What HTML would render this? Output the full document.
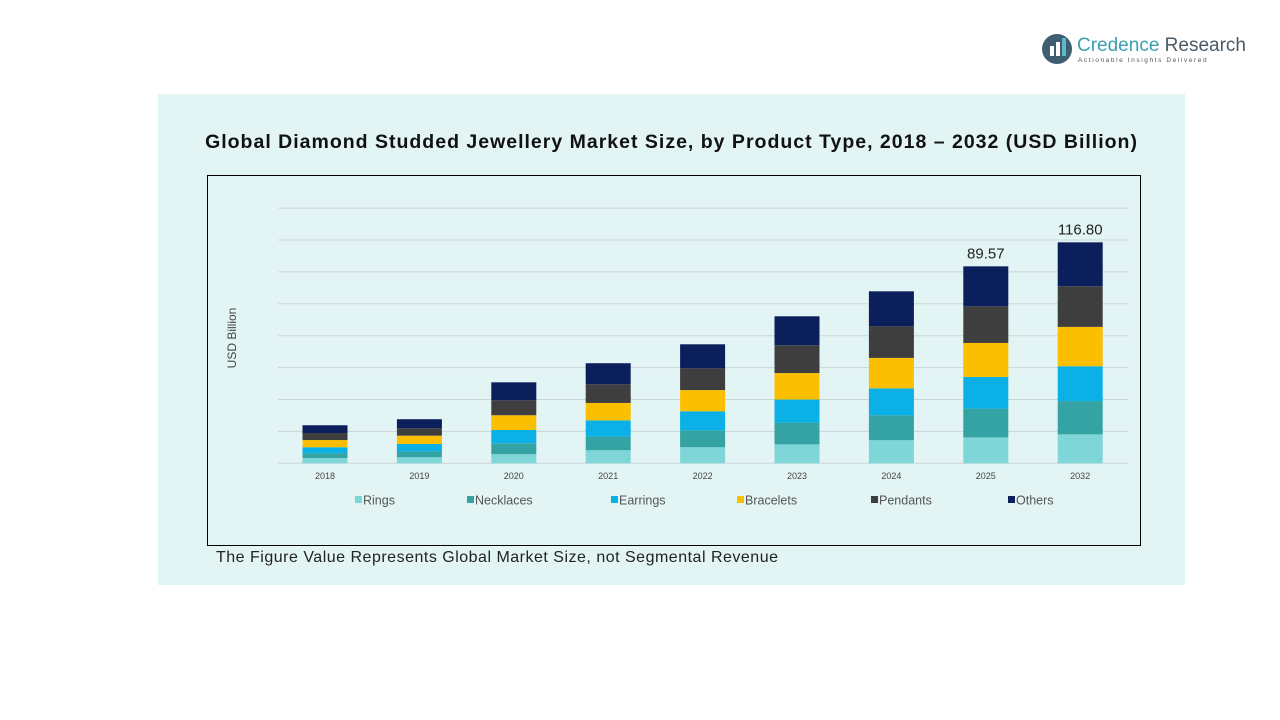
<!DOCTYPE html>
<html><head><meta charset="utf-8"><style>
body{margin:0;width:1280px;height:720px;background:#fff;position:relative;overflow:hidden;font-family:"Liberation Sans",sans-serif}
#panel{position:absolute;left:158px;top:94px;width:1027px;height:491px;background:#e3f4f5}
#title{position:absolute;left:158px;width:1027px;top:131px;text-align:center;font-weight:bold;font-size:19.5px;color:#111;letter-spacing:1px}
#note{position:absolute;left:216px;top:549px;font-size:16px;color:#222;letter-spacing:0.5px}
#logo{position:absolute;left:1040px;top:32px}
</style></head><body>
<div id="panel"></div>
<div id="logo">
<svg width="215" height="36"><circle cx="17" cy="17" r="15" fill="#3e5f72"/><rect x="10" y="14" width="4" height="10" fill="#fff"/><rect x="16" y="10" width="4" height="14" fill="#fff"/><rect x="22" y="6" width="4" height="18" fill="#5fb8c4"/>
<text x="37" y="19" font-family="Liberation Sans" font-size="19" fill="#3a9fb0">Credence <tspan fill="#4a5a66">Research</tspan></text>
<text x="38" y="30" font-family="Liberation Sans" font-size="6.5" fill="#555" letter-spacing="1.6">Actionable Insights Delivered</text></svg></div>
<div id="title">Global Diamond Studded Jewellery Market Size, by Product Type, 2018 – 2032 (USD Billion)</div>
<svg id="chart" width="1280" height="720" style="position:absolute;left:0;top:0">
<rect x="207.5" y="175.5" width="933" height="370" fill="none" stroke="#000" stroke-width="1"/>
<g id="grid"></g><g id="bars"></g><g id="xlabels"></g><g id="legend"></g>
<text x="236" y="338" transform="rotate(-90 236 338)" text-anchor="middle" font-size="12" fill="#444">USD Billion</text>
</svg>
<div id="note">The Figure Value Represents Global Market Size, not Segmental Revenue</div>
<script>
const categories=["2018","2019","2020","2021","2022","2023","2024","2025","2032"];
const seriesNames=["Rings","Necklaces","Earrings","Bracelets","Pendants","Others"];
const rings=[2.8,3.2,4.8,6.9,8.5,10.0,12.2,13.7,15.3];
const necklaces=[2.6,3.1,5.8,7.2,8.9,11.5,13.2,15.2,17.6];
const earrings=[3.1,3.9,7.0,8.6,10.1,12.2,14.2,16.7,18.4];
const bracelets=[3.8,4.4,7.8,9.2,11.2,14.0,16.1,18.0,20.8];
const pendants=[3.7,3.9,7.9,9.9,11.5,14.7,16.7,19.4,21.5];
const others=[4.1,4.8,9.5,11.1,12.7,15.3,18.5,21.1,23.2];
const totalLabels=["","","","","","","","89.57","116.80"];
const gridStep=16.86, gridCount=8;
const colors=["#7fd6d8","#35a3a3","#0ab0e6","#fcbf00","#3e3e3e","#0a1f5c"];
const series=[rings,necklaces,earrings,bracelets,pendants,others];
const NS="http://www.w3.org/2000/svg";
const base=463.3, pxPerUnit=1.892, x0=325, xStep=94.4, bw=45;
const y=v=>base-v*pxPerUnit, x=i=>x0+i*xStep;
function mk(tag,attrs,parent){const e=document.createElementNS(NS,tag);for(const k in attrs)e.setAttribute(k,attrs[k]);parent.appendChild(e);return e;}
const G=document.getElementById('grid');
for(let k=0;k<=gridCount;k++){const l=mk('line',{x1:278,x2:1128,y1:y(k*gridStep),y2:y(k*gridStep),stroke:'#c9d6d8','stroke-width':1},G);

}
const B=document.getElementById('bars');
categories.forEach((c,i)=>{let cum=0;
series.forEach((s,j)=>{const r=mk('rect',{x:x(i)-bw/2,y:y(cum+s[i]),width:bw,height:s[i]*pxPerUnit,fill:colors[j]},B);


cum+=s[i];});
if(totalLabels[i]){const t=mk('text',{x:x(i),y:y(cum)-8,'text-anchor':'middle','font-size':15,fill:'#222'},B);t.textContent=totalLabels[i];

}
const xl=mk('text',{x:x(i),y:479,'text-anchor':'middle','font-size':9,fill:'#444'},document.getElementById('xlabels'));xl.textContent=c;


});
const L=document.getElementById('legend');const lx=[355,467,611,737,871,1008];
seriesNames.forEach((n,j)=>{const g=mk('g',{},L);


mk('rect',{x:lx[j],y:496,width:7,height:7,fill:colors[j]},g);
const t=mk('text',{x:lx[j]+8,y:504.5,'font-size':12.5,fill:'#555'},g);t.textContent=n;});
</script>
</body></html>
